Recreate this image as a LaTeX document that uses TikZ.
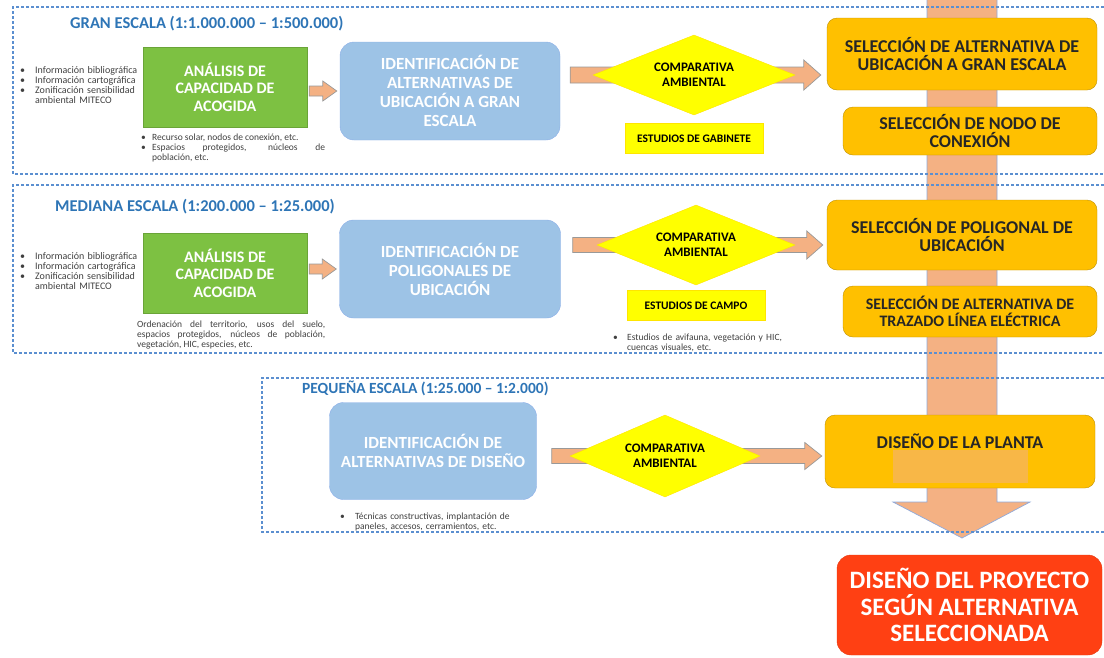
\documentclass[tikz,border=0pt]{standalone}
\usepackage{fontspec}
\setmainfont{Carlito}
\usetikzlibrary{calc,positioning,shapes.geometric}

\definecolor{azul}{HTML}{2E75B6}
\definecolor{marco}{HTML}{5B8FD0}
\definecolor{verde}{HTML}{7DC142}
\definecolor{celeste}{HTML}{9DC3E6}
\definecolor{amarillo}{HTML}{FFFF00}
\definecolor{naranja}{HTML}{FFC000}
\definecolor{salmon}{HTML}{F4B183}
\definecolor{rojo}{HTML}{FF4013}
\definecolor{gris}{HTML}{404040}
\definecolor{filo}{HTML}{8EA9DB}

\newcommand\fsz[2]{\fontsize{#1}{#2}\selectfont}
\newcommand\bul[2][15pt]{\par\noindent\hangindent=#1\hangafter=1\makebox[#1][l]{\textbullet}#2\par}
\newcommand\blkarr[5]{%
  \draw[arr] ($(#1)+(0,#3)$) -- ($(#2)+(-#5,#3)$) -- ($(#2)+(-#5,#4)$) -- (#2)
    -- ($(#2)+(-#5,-#4)$) -- ($(#2)+(-#5,-#3)$) -- ($(#1)+(0,-#3)$) -- cycle;}

\begin{document}
\begin{tikzpicture}[x=1pt,y=-1pt,
    secc/.style={draw=marco,line width=1.1pt,dash pattern=on 3pt off 2pt},
    tit/.style={anchor=west,inner sep=0pt,text=azul,font=\fsz{16.5}{18}\bfseries},
    anal/.style={fill=verde,draw=verde!85!black,text=white,align=center,
                 minimum width=164pt,minimum height=80pt,font=\fsz{16}{17.5}\bfseries},
    ident/.style={fill=celeste,draw=celeste!90!blue,rounded corners=14pt,text=white,
                  align=center,font=\fsz{17}{19}\bfseries},
    comp/.style={diamond,aspect=2.5,fill=amarillo,draw=amarillo!80!orange,inner sep=0pt,
                 align=center,font=\fsz{13}{15}\bfseries},
    estud/.style={fill=amarillo,draw=amarillo!80!orange,minimum width=138pt,
                  minimum height=30pt,font=\fsz{11.5}{12}\bfseries},
    sel/.style={fill=naranja,draw=naranja!75!black,rounded corners=10pt,align=center,
                text=black!85,font=\fsz{18}{18.5}\bfseries},
    fin/.style={fill=rojo,draw=rojo!90!black,rounded corners=14pt,align=center,text=white,
                minimum width=265pt,minimum height=100pt,font=\fsz{25}{26.5}\bfseries},
    nota/.style={anchor=north west,inner sep=0pt,text=gris,font=\fsz{9.5}{10}},
    arr/.style={fill=salmon,draw=gray!80,line width=.7pt},
    bigarr/.style={fill=salmon,draw=filo,line width=.7pt}]
    \useasboundingbox (0,0) rectangle (1104,657);

    \coordinate (btop) at (962,-5);
    \coordinate (btip) at (962,538);
    \draw[bigarr] ($(btop)+(-35,0)$) -- ($(btip)+(-35,-36)$) -- ($(btip)+(-69,-36)$) -- (btip)
        -- ($(btip)+(68,-36)$) -- ($(btip)+(35,-36)$) -- ($(btop)+(35,0)$);

    \draw[secc] (1104,7) -| (13,174) -- (1104,174);
    \draw[secc] (1104,185) -| (13,353) -- (1104,353);
    \draw[secc] (1104,378) -| (262,532) -- (1104,532);

    % gran escala
    \node[tit] (t1) at (70,24) {GRAN ESCALA (1:1.000.000 – 1:500.000)};
    \node[anal] (ana1) at (225,87) {ANÁLISIS DE\\CAPACIDAD DE\\ACOGIDA};
    \node[ident,minimum width=220pt,minimum height=98pt] (id1) at (450,91)
        {IDENTIFICACIÓN DE\\ALTERNATIVAS DE\\UBICACIÓN A GRAN\\ESCALA};
    \node[sel,minimum width=270pt,minimum height=72pt] (sel1) at (962,54)
        {SELECCIÓN DE ALTERNATIVA DE\\UBICACIÓN A GRAN ESCALA};
    \node[sel,minimum width=254pt,minimum height=48pt] (sel2) at (970,131)
        {SELECCIÓN DE NODO DE\\CONEXIÓN};
    \coordinate (c1) at (694,75);
    \coordinate (p1) at ($(ana1.east|-id1.west)+(2,0)$);
    \coordinate (q1) at ($(id1.west)+(-3,0)$);
    \blkarr{p1}{q1}{5}{10}{14}
    \coordinate (a1) at ($(id1.east|-c1)+(10,0)$);
    \coordinate (b1) at ($(sel1.west|-c1)+(-6,0)$);
    \blkarr{a1}{b1}{8}{15}{17}
    \node[comp,minimum width=202pt,minimum height=80pt] (comp1) at (c1) {COMPARATIVA\\AMBIENTAL};
    \node[estud,below=8pt of comp1] (est1) {ESTUDIOS DE GABINETE};
    \node[nota,text width=122pt,align=left,font=\fsz{10}{10}] (n1) at (20,63)
        {\bul{Información bibliográfica}\bul{Información cartográfica}\bul{Zonificación sensibilidad ambiental MITECO}};
    \node[nota,text width=184pt,align=justify] (n2) at (141,130)
        {\bul[11pt]{Recurso solar, nodos de conexión, etc.}\bul[11pt]{Espacios protegidos, núcleos de\linebreak población, etc.}};

    % mediana escala
    \node[tit] (t2) at (55,207) {MEDIANA ESCALA (1:200.000 – 1:25.000)};
    \node[anal] (ana2) at (225,273) {ANÁLISIS DE\\CAPACIDAD DE\\ACOGIDA};
    \node[ident,minimum width=221pt,minimum height=98pt] (id2) at (450,269)
        {IDENTIFICACIÓN DE\\POLIGONALES DE\\UBICACIÓN};
    \node[sel,minimum width=270pt,minimum height=70pt] (sel3) at (962,235)
        {SELECCIÓN DE POLIGONAL DE\\UBICACIÓN};
    \node[sel,minimum width=254pt,minimum height=51pt,font=\fsz{16}{17}\bfseries] (sel4) at (970,311.5)
        {SELECCIÓN DE ALTERNATIVA DE\\TRAZADO LÍNEA ELÉCTRICA};
    \coordinate (c2) at (696,245);
    \coordinate (p2) at ($(ana2.east|-id2.west)+(2,0)$);
    \coordinate (q2) at ($(id2.west)+(-3,0)$);
    \blkarr{p2}{q2}{5}{10}{14}
    \coordinate (a2) at ($(id2.east|-c2)+(12,0)$);
    \coordinate (b2) at ($(sel3.west|-c2)+(-4,0)$);
    \blkarr{a2}{b2}{7.5}{14}{16}
    \node[comp,minimum width=198pt,minimum height=80pt] (comp2) at (c2) {COMPARATIVA\\AMBIENTAL};
    \node[estud,below=5pt of comp2] (est2) {ESTUDIOS DE CAMPO};
    \node[nota,text width=122pt,align=left,font=\fsz{10}{10}] (n3) at (20,249)
        {\bul{Información bibliográfica}\bul{Información cartográfica}\bul{Zonificación sensibilidad ambiental MITECO}};
    \node[nota,text width=188pt,align=justify] (n4) at (137,321)
        {Ordenación del territorio, usos del suelo,\linebreak espacios protegidos, núcleos de población,\linebreak vegetación, HIC, especies, etc.};
    \node[nota,text width=185pt,align=left] (n5) at (613,330)
        {\bul[14pt]{Estudios de avifauna, vegetación y HIC,\newline cuencas visuales, etc.}};

    % pequena escala
    \node[tit,font=\fsz{15.5}{17}\bfseries] (t3) at (302,388) {PEQUEÑA ESCALA (1:25.000 – 1:2.000)};
    \node[ident,minimum width=207pt,minimum height=97pt] (id3) at (433,451)
        {IDENTIFICACIÓN DE\\ALTERNATIVAS DE DISEÑO};
    \node[sel,minimum width=270pt,minimum height=73pt,text height=14pt,text depth=20pt] (sel5) at (960,451.5)
        {DISEÑO DE LA PLANTA};
    \fill[salmon,opacity=.55] (893,450) rectangle (1028,483);
    \coordinate (c3) at (665,456);
    \coordinate (a3) at ($(id3.east|-c3)+(15,0)$);
    \coordinate (b3) at ($(sel5.west|-c3)+(-3,0)$);
    \blkarr{a3}{b3}{7.5}{13.5}{17}
    \node[comp,minimum width=190pt,minimum height=82pt] (comp3) at (c3) {COMPARATIVA\\AMBIENTAL};
    \node[nota,text width=190pt,align=left] (n6) at (340,509)
        {\bul[15pt]{Técnicas constructivas, implantación de\newline paneles, accesos, cerramientos, etc.}};

    \node[fin] (fin) at (969.5,605) {DISEÑO DEL PROYECTO\\SEGÚN ALTERNATIVA\\SELECCIONADA};
\end{tikzpicture}
\end{document}
